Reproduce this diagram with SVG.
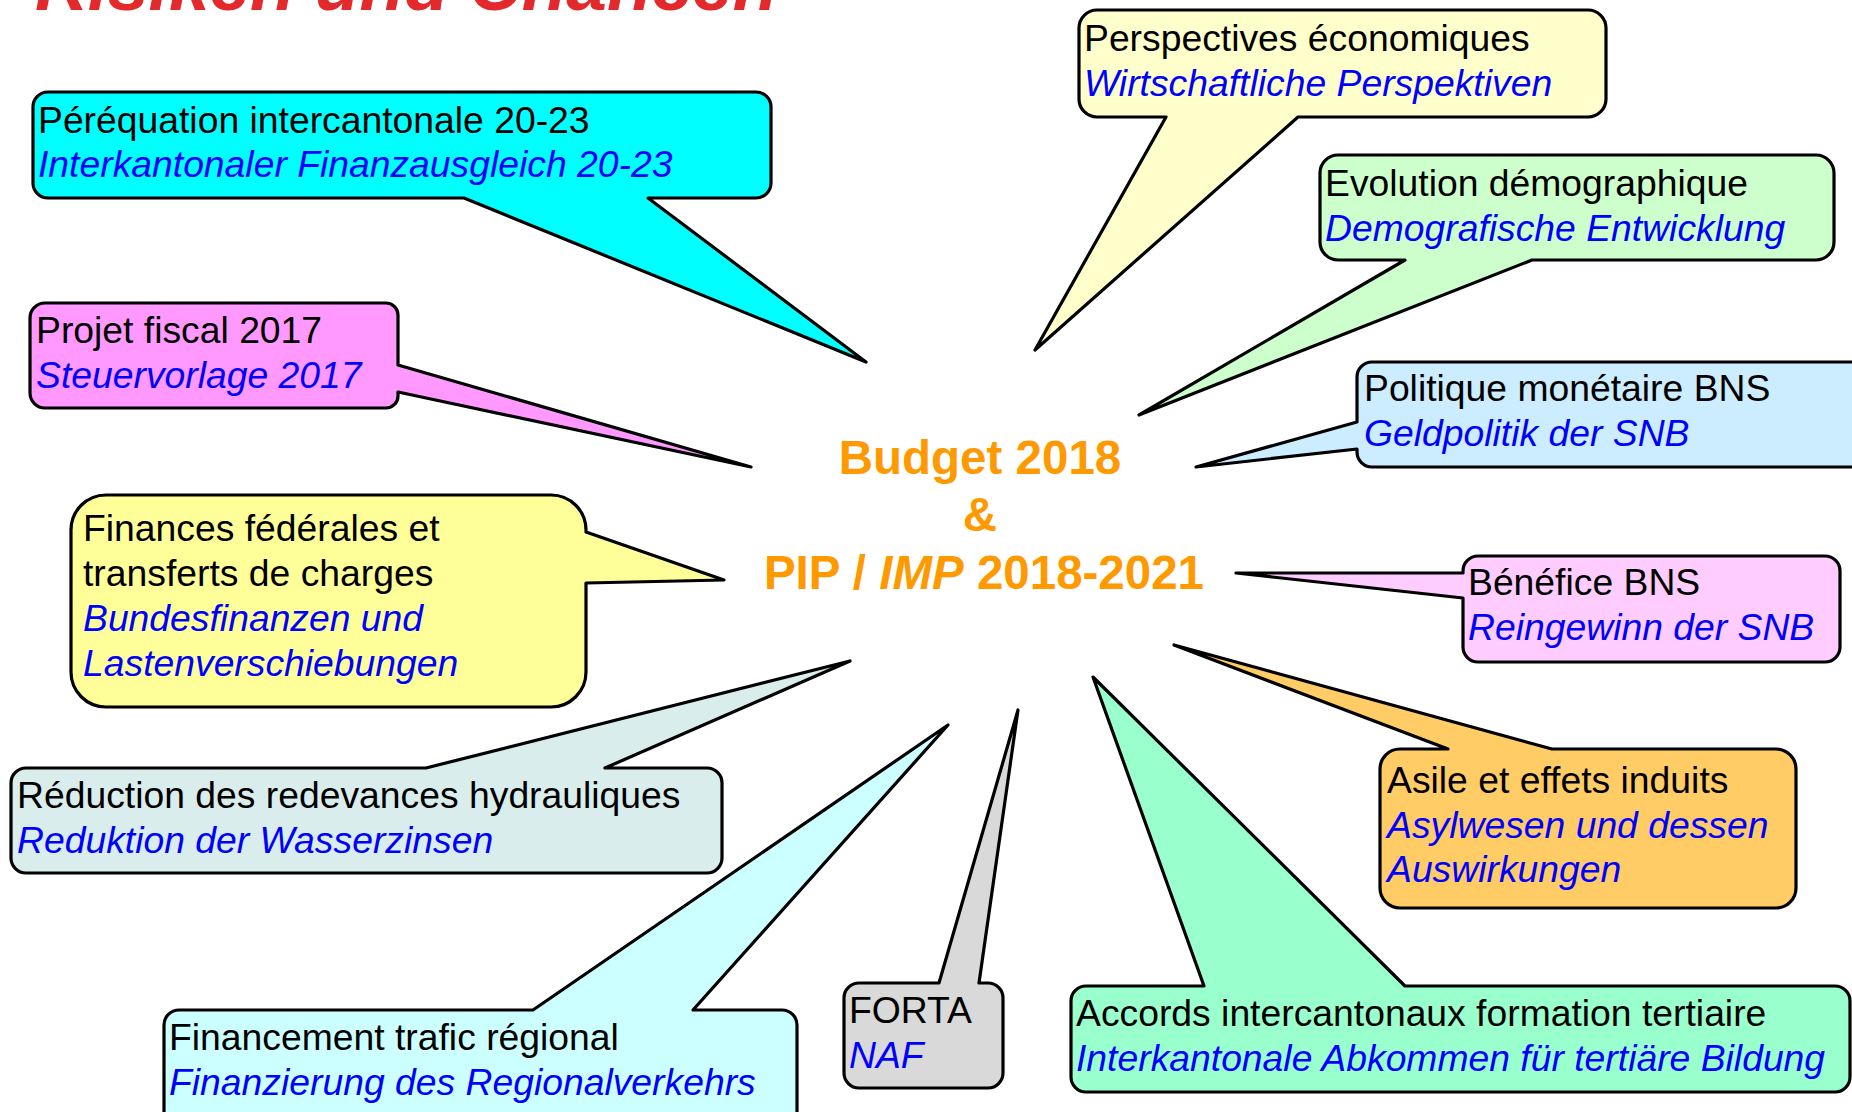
<svg xmlns="http://www.w3.org/2000/svg" width="1852" height="1112" viewBox="0 0 1852 1112">
<style>
.c{stroke:#000;stroke-width:3.2;stroke-linejoin:round}
.t{font-family:"Liberation Sans",Arial,sans-serif;font-size:37.3px;fill:#000}
.d{font-family:"Liberation Sans",Arial,sans-serif;font-size:37.3px;fill:#0000FF;font-style:italic}
.m{font-family:"Liberation Sans",Arial,sans-serif;font-size:47.5px;font-weight:bold;fill:#FF9900;text-anchor:middle}
</style>
<rect width="1852" height="1112" fill="#fff"/>
<text x="35" y="10" font-family="Liberation Sans,Arial,sans-serif" font-size="73" font-weight="bold" font-style="italic" fill="#E3292B">Risiken und Chancen</text>
<g id="connectors"/>
<g id="n-perequation">
<path class="c" fill="#00FFFF" d="M48,92 H756 A15,15 0 0 1 771,107 V183 A15,15 0 0 1 756,198 H648 L866,362 L464,198 H48 A15,15 0 0 1 33,183 V107 A15,15 0 0 1 48,92 Z"/>
<text class="t" x="38" y="133">Péréquation intercantonale 20-23</text>
<text class="d" x="38" y="177">Interkantonaler Finanzausgleich 20-23</text>
</g>
<g id="n-projet">
<path class="c" fill="#FF99FF" d="M45,303 H386 A12,12 0 0 1 398,315 V365 L751,467 L398,392 V396 A12,12 0 0 1 386,408 H45 A15,15 0 0 1 30,393 V318 A15,15 0 0 1 45,303 Z"/>
<text class="t" x="36" y="343">Projet fiscal 2017</text>
<text class="d" x="36" y="388">Steuervorlage 2017</text>
</g>
<g id="n-finances">
<path class="c" fill="#FFFF99" d="M106,495 H551 A35,35 0 0 1 586,530 V532 L724,580 L586,583 V672 A35,35 0 0 1 551,707 H106 A35,35 0 0 1 71,672 V530 A35,35 0 0 1 106,495 Z"/>
<text class="t" x="83" y="541">Finances fédérales et</text>
<text class="t" x="83" y="586">transferts de charges</text>
<text class="d" x="83" y="631">Bundesfinanzen und</text>
<text class="d" x="83" y="676">Lastenverschiebungen</text>
</g>
<g id="n-reduction">
<path class="c" fill="#DAEDED" d="M26,768 H426 L850,661 L605,768 H707 A15,15 0 0 1 722,783 V858 A15,15 0 0 1 707,873 H26 A15,15 0 0 1 11,858 V783 A15,15 0 0 1 26,768 Z"/>
<text class="t" x="17" y="808">Réduction des redevances hydrauliques</text>
<text class="d" x="17" y="853">Reduktion der Wasserzinsen</text>
</g>
<g id="n-financement">
<path class="c" fill="#CCFFFF" d="M179,1010 H533 L948,725 L693,1010 H782 A15,15 0 0 1 797,1025 V1130 H164 V1025 A15,15 0 0 1 179,1010 Z"/>
<text class="t" x="169" y="1050">Financement trafic régional</text>
<text class="d" x="169" y="1095">Finanzierung des Regionalverkehrs</text>
</g>
<g id="n-forta">
<path class="c" fill="#D9D9D9" d="M859,983 H939 L1018,710 L979,983 H988 A15,15 0 0 1 1003,998 V1073 A15,15 0 0 1 988,1088 H859 A15,15 0 0 1 844,1073 V998 A15,15 0 0 1 859,983 Z"/>
<text class="t" x="849" y="1023">FORTA</text>
<text class="d" x="849" y="1068">NAF</text>
</g>
<g id="n-accords">
<path class="c" fill="#99FFCC" d="M1086,986 H1204 L1093,677 L1405,986 H1835 A15,15 0 0 1 1850,1001 V1077 A15,15 0 0 1 1835,1092 H1086 A15,15 0 0 1 1071,1077 V1001 A15,15 0 0 1 1086,986 Z"/>
<text class="t" x="1076" y="1026">Accords intercantonaux formation tertiaire</text>
<text class="d" x="1076" y="1071">Interkantonale Abkommen für tertiäre Bildung</text>
</g>
<g id="n-asile">
<path class="c" fill="#FFCC66" d="M1400,749 H1448 L1174,645 L1552,749 H1776 A20,20 0 0 1 1796,769 V888 A20,20 0 0 1 1776,908 H1400 A20,20 0 0 1 1380,888 V769 A20,20 0 0 1 1400,749 Z"/>
<text class="t" x="1387" y="793">Asile et effets induits</text>
<text class="d" x="1387" y="838">Asylwesen und dessen</text>
<text class="d" x="1387" y="882">Auswirkungen</text>
</g>
<g id="n-benefice">
<path class="c" fill="#FFCCFF" d="M1478,556 H1825 A15,15 0 0 1 1840,571 V647 A15,15 0 0 1 1825,662 H1478 A15,15 0 0 1 1463,647 V598 L1236,573 L1463,573 V571 A15,15 0 0 1 1478,556 Z"/>
<text class="t" x="1468" y="595">Bénéfice BNS</text>
<text class="d" x="1468" y="640">Reingewinn der SNB</text>
</g>
<g id="n-politique">
<path class="c" fill="#CCECFF" d="M1372,362 H1870 V467 H1372 A15,15 0 0 1 1357,452 V449 L1196,467 L1357,422 V377 A15,15 0 0 1 1372,362 Z"/>
<text class="t" x="1364" y="401">Politique monétaire BNS</text>
<text class="d" x="1364" y="446">Geldpolitik der SNB</text>
</g>
<g id="n-evolution">
<path class="c" fill="#CCFFCC" d="M1338,155 H1816 A18,18 0 0 1 1834,173 V242 A18,18 0 0 1 1816,260 H1532 L1139,415 L1405,260 H1338 A18,18 0 0 1 1320,242 V173 A18,18 0 0 1 1338,155 Z"/>
<text class="t" x="1325" y="196">Evolution démographique</text>
<text class="d" x="1325" y="241">Demografische Entwicklung</text>
</g>
<g id="n-perspectives">
<path class="c" fill="#FFFFCC" d="M1097,10 H1588 A18,18 0 0 1 1606,28 V99 A18,18 0 0 1 1588,117 H1298 L1035,350 L1166,117 H1097 A18,18 0 0 1 1079,99 V28 A18,18 0 0 1 1097,10 Z"/>
<text class="t" x="1084" y="51">Perspectives économiques</text>
<text class="d" x="1084" y="96">Wirtschaftliche Perspektiven</text>
</g>
<g id="n-center">
<text class="m" x="980" y="474">Budget 2018</text>
<text class="m" x="980" y="531">&amp;</text>
<text class="m" x="984" y="589">PIP / <tspan font-style="italic">IMP</tspan> 2018-2021</text>
</g>
</svg>
